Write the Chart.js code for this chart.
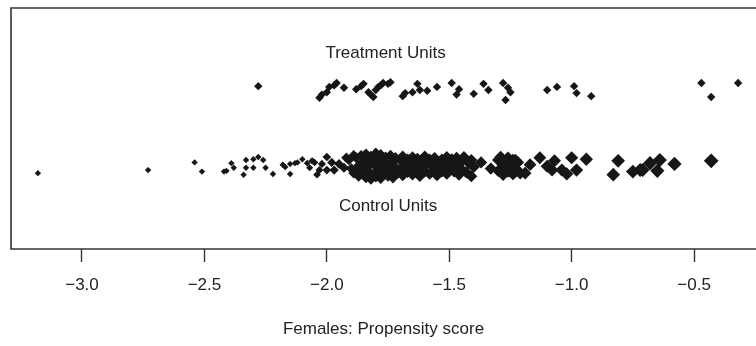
<!DOCTYPE html>
<html>
<head>
<meta charset="utf-8">
<script src="https://cdn.jsdelivr.net/npm/chart.js@4.4.1/dist/chart.umd.min.js"></script>
<style>
  html, body { margin: 0; padding: 0; background: #fff; }
</style>
</head>
<body>
<canvas id="chart" width="756" height="346"></canvas>
<script>
/************  DATA  ************/
// Treated units: propensity score (logit) and vertical jitter around row 1
const treatedScore = [
  -2.28, -2.03, -2.02, -2.00, -1.99, -1.97, -1.96, -1.93, -1.88, -1.86,
  -1.85, -1.83, -1.82, -1.81, -1.80, -1.79, -1.78, -1.77, -1.75, -1.74,
  -1.69, -1.68, -1.65, -1.63, -1.62, -1.59, -1.55, -1.49, -1.47, -1.46,
  -1.40, -1.36, -1.34, -1.28, -1.26, -1.25, -1.27, -1.10, -1.06, -0.99,
  -0.98, -0.92, -0.47, -0.43, -0.32
];
const treatedJitter = [
  1.05, 0.90, 0.94, 0.97, 1.04, 1.06, 1.09, 1.03, 1.01, 1.05,
  1.08, 0.97, 0.94, 0.91, 1.00, 1.04, 1.06, 1.09, 1.08, 1.10,
  0.92, 0.96, 0.97, 1.08, 1.00, 0.99, 1.04, 1.09, 0.94, 1.01,
  0.95, 1.08, 1.00, 1.09, 1.03, 0.97, 0.87, 1.00, 1.04, 1.05,
  0.96, 0.92, 1.09, 0.91, 1.09
];

// Control units: propensity score (logit) and vertical jitter around row 0
const controlScore = [
  -3.18, -2.73, -2.54, -2.51, -2.42, -2.41, -2.39, -2.38, -2.33, -2.33,
  -2.34, -2.30, -2.30, -2.28, -2.26, -2.25, -2.22, -2.18, -2.17, -2.15,
  -2.15, -2.13, -2.12, -2.10, -2.08, -2.07, -2.06, -2.05, -2.04, -2.03,
  -2.02, -2.00, -2.00, -1.98, -1.97, -1.95, -1.93, -1.92, -1.91, -1.90,
  -1.89, -1.89,
  -1.88, -1.88, -1.87, -1.87, -1.86, -1.86, -1.85, -1.85, -1.84, -1.84,
  -1.84, -1.83, -1.83, -1.82, -1.82, -1.82, -1.81, -1.81, -1.80, -1.80,
  -1.80, -1.79, -1.79, -1.78, -1.78, -1.78, -1.77, -1.77, -1.76, -1.76,
  -1.75, -1.75, -1.74, -1.74, -1.73, -1.73, -1.72, -1.72, -1.71, -1.70,
  -1.70, -1.69, -1.69, -1.68, -1.67, -1.67, -1.66, -1.65, -1.65, -1.64,
  -1.63, -1.63, -1.62, -1.62, -1.61, -1.60, -1.60, -1.59, -1.58, -1.58,
  -1.57, -1.56, -1.56, -1.55, -1.55, -1.54, -1.53, -1.53, -1.52, -1.51,
  -1.51, -1.50, -1.50, -1.49, -1.48, -1.47, -1.47, -1.46, -1.45, -1.45,
  -1.44, -1.43, -1.42, -1.41, -1.41,
  -1.40, -1.37, -1.33,
  -1.30, -1.30, -1.29, -1.28, -1.28, -1.27, -1.26, -1.26, -1.25, -1.24,
  -1.24, -1.23, -1.22, -1.21,
  -1.28, -1.26, -1.23, -1.23, -1.19, -1.17, -1.13, -1.10, -1.07, -1.08,
  -1.04, -1.02, -1.00, -0.98, -0.94, -0.83, -0.81, -0.75, -0.72, -0.71,
  -0.68, -0.64, -0.65, -0.58, -0.43
];
const controlJitter = [
  -0.08, -0.04, 0.06, -0.06, -0.06, -0.05, 0.05, -0.01, 0.09, -0.01,
  -0.10, -0.01, 0.10, 0.13, 0.09, -0.01, -0.09, 0.03, 0.00, 0.04,
  -0.09, 0.05, 0.06, 0.10, 0.05, -0.01, 0.08, 0.06, -0.10, -0.04,
  0.04, 0.13, -0.04, 0.06, -0.04, 0.04, -0.01, 0.12, 0.09, -0.02,
  0.15, -0.08,
  0.12, -0.06, 0.02, -0.12, 0.15, -0.03, 0.07, -0.10, 0.17, 0.00,
  -0.14, 0.10, -0.06, 0.04, -0.16, 0.14, 0.09, -0.09, 0.18, 0.01,
  -0.13, 0.11, -0.05, 0.05, -0.15, 0.16, 0.08, -0.08, 0.13, -0.02,
  0.03, -0.12, 0.15, -0.06, 0.07, -0.14, 0.12, 0.00, -0.08, 0.09,
  -0.03, 0.14, -0.11, 0.04, 0.10, -0.07, -0.01, 0.13, -0.10, 0.06,
  -0.04, 0.11, 0.02, -0.12, 0.09, -0.06, 0.14, 0.04, -0.09, 0.10,
  0.01, 0.12, -0.05, 0.07, -0.11, 0.00, 0.10, -0.06, 0.04, -0.09,
  0.13, 0.06, -0.02, 0.10, -0.06, 0.02, 0.12, -0.10, 0.07, -0.03,
  0.13, -0.07, 0.05, -0.12, 0.09,
  0.00, 0.06, -0.02,
  0.09, -0.05, 0.13, -0.10, 0.03, 0.08, -0.06, 0.12, 0.01, -0.09,
  0.09, -0.02, 0.06, -0.08,
  0.09, -0.04, 0.09, -0.06, -0.08, 0.03, 0.12, 0.01, 0.08, -0.04,
  -0.04, -0.09, 0.12, -0.04, 0.10, -0.10, 0.08, -0.06, -0.04, -0.04,
  0.05, 0.09, -0.05, 0.04, 0.08
];

const tickValues = [-3.0, -2.5, -2.0, -1.5, -1.0, -0.5];
const xRange = [-3.29, -0.247];
const yRange = [-1.065, 2.065];
const axisTitle = 'Females: Propensity score';
// group labels: [text, score, row]
const groupLabels = [
  ['Treatment Units', -1.76, 1.48],
  ['Control Units', -1.75, -0.51]
];

/************  STYLE  ************/
const ink = '#161616';
const frameColor = '#333';
const fontFamily = '"Liberation Sans", Arial, sans-serif';

// control marker size grows with the score (weight of the control unit)
function controlRadius(score) {
  if (score <= -2.1) return 3.2;
  if (score <= -1.9) return 3.2 + (score + 2.1) / 0.2 * 2.2;
  return 5.4 + (score + 1.9) / 1.5 * 2;
}

const treatedPoints = treatedScore.map((s, i) => ({ x: s, y: treatedJitter[i] }));
const controlPoints = controlScore.map((s, i) => ({ x: s, y: controlJitter[i] }));

/************  PLUGINS  ************/
const framePlugin = {
  id: 'frame',
  afterDatasetsDraw(chart) {
    const { ctx, chartArea: a } = chart;
    ctx.save();
    ctx.strokeStyle = frameColor;
    ctx.lineWidth = 1.6;
    ctx.beginPath();
    ctx.moveTo(a.right + 2, a.top);
    ctx.lineTo(a.left, a.top);
    ctx.lineTo(a.left, a.bottom);
    ctx.lineTo(a.right + 2, a.bottom);
    ctx.stroke();
    ctx.restore();
  }
};

const labelPlugin = {
  id: 'groupLabels',
  afterDatasetsDraw(chart) {
    const { ctx, scales } = chart;
    ctx.save();
    ctx.fillStyle = '#222';
    ctx.font = '17px ' + fontFamily;
    ctx.textAlign = 'center';
    ctx.textBaseline = 'middle';
    groupLabels.forEach(([text, sx, sy]) => {
      ctx.fillText(text, scales.x.getPixelForValue(sx), scales.y.getPixelForValue(sy));
    });
    ctx.restore();
  }
};

/************  CHART  ************/
const ctx = document.getElementById('chart').getContext('2d');
new Chart(ctx, {
  type: 'scatter',
  data: {
    datasets: [
      {
        label: 'Control Units',
        data: controlPoints,
        pointStyle: 'rectRot',
        pointRadius: c => controlRadius(c.raw ? c.raw.x : -2),
        backgroundColor: ink,
        borderColor: ink,
        borderWidth: 0
      },
      {
        label: 'Treatment Units',
        data: treatedPoints,
        pointStyle: 'rectRot',
        pointRadius: 4.2,
        backgroundColor: ink,
        borderColor: ink,
        borderWidth: 0
      }
    ]
  },
  options: {
    responsive: false,
    animation: false,
    events: [],
    layout: { autoPadding: false, padding: { left: 11, top: 8, right: 0, bottom: 0 } },
    plugins: {
      legend: { display: false },
      tooltip: { enabled: false }
    },
    scales: {
      x: {
        type: 'linear',
        min: xRange[0],
        max: xRange[1],
        afterBuildTicks: scale => {
          scale.ticks = tickValues.map(v => ({ value: v }));
        },
        afterFit: scale => { scale.height = 97; },
        border: { display: false },
        grid: {
          drawOnChartArea: false,
          drawTicks: true,
          tickLength: 13,
          tickColor: frameColor,
          tickWidth: 1.4
        },
        ticks: {
          padding: 13,
          color: '#222',
          font: { family: fontFamily, size: 17 },
          maxRotation: 0,
          autoSkip: false,
          callback: v => v.toFixed(1).replace('-', '\u2212')
        },
        title: {
          display: true,
          text: axisTitle,
          color: '#222',
          font: { family: fontFamily, size: 17 },
          padding: { top: 0, bottom: 6 }
        }
      },
      y: {
        display: false,
        min: yRange[0],
        max: yRange[1]
      }
    }
  },
  plugins: [framePlugin, labelPlugin]
});
</script>
</body>
</html>
